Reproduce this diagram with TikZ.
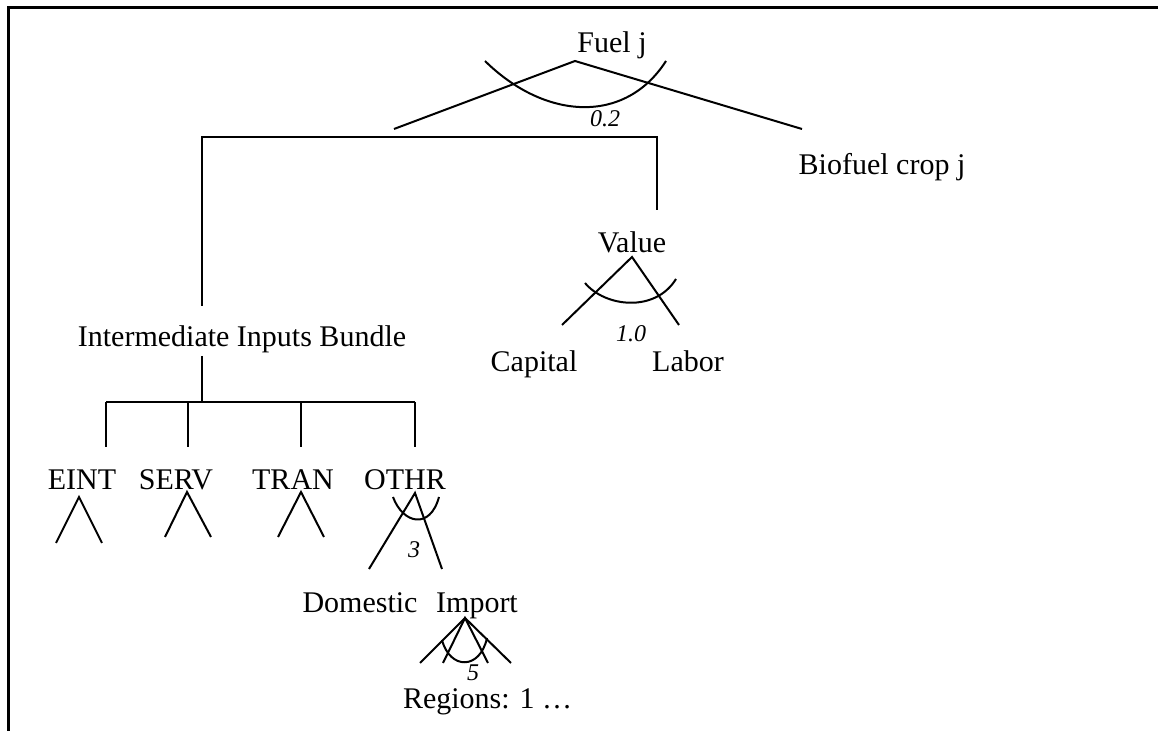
\documentclass[tikz,border=0pt]{standalone}
\usepackage{fontspec}
\setmainfont{Liberation Serif}
\begin{document}
\begin{tikzpicture}[x=0.5pt,y=-0.5pt,line width=1pt,
  txt/.style={anchor=base,inner sep=0pt,font=\fontsize{15}{18}\selectfont},
  elas/.style={anchor=base,inner sep=0pt,font=\fontsize{12}{14}\selectfont\itshape}]
  \useasboundingbox (0,0) rectangle (1158,731);
  % frame
  \coordinate (tl) at (8,8);
  \coordinate (tr) at (1158,8);
  \coordinate (bl) at (8,731);
  \draw[line width=1.5pt] (bl) -- (tl) -- (tr);
  % fuel nest
  \node[txt] (fuel) at (612,53) {Fuel j};
  \coordinate (f0) at (575,61);
  \coordinate (f1) at (394,129);
  \coordinate (f2) at (802,129);
  \draw (f1) -- (f0) -- (f2);
  \coordinate (fa) at (485,61);
  \coordinate (fb) at (666,61);
  \draw (fa) .. controls (545,120) and (625,125) .. (fb);
  \node[elas] (s1) at (605,127) {0.2};
  \node[txt] (crop) at (882,175) {Biofuel crop j};
  % bracket
  \coordinate (b1) at (202,137);
  \coordinate (b2) at (657,137);
  \coordinate (b3) at (202,306);
  \coordinate (b4) at (657,210);
  \draw (b3) -- (b1) -- (b2) -- (b4);
  % value added
  \node[txt] (val) at (632,253) {Value};
  \coordinate (v0) at (632,257);
  \coordinate (v1) at (562,325);
  \coordinate (v2) at (679,325);
  \draw (v1) -- (v0) -- (v2);
  \coordinate (va) at (585,283);
  \coordinate (vb) at (676,279);
  \draw (va) .. controls (605,307) and (655,313) .. (vb);
  \node[elas] (s2) at (631,342) {1.0};
  \node[txt] (cap) at (534,372) {Capital};
  \node[txt] (lab) at (688,372) {Labor};
  % intermediate inputs
  \node[txt] (ii) at (242,347) {Intermediate Inputs Bundle};
  \coordinate (i0) at (202,356);
  \coordinate (i1) at (202,402);
  \coordinate (h1) at (106,402);
  \coordinate (h2) at (415,402);
  \draw (i0) -- (i1);
  \draw (h1) -- (h2);
  \coordinate (e0) at (106,447);
  \coordinate (r0) at (188,447);
  \coordinate (t0) at (301,447);
  \coordinate (o0) at (415,447);
  \draw (h1) -- (e0);
  \draw (188,402) -- (r0);
  \draw (301,402) -- (t0);
  \draw (h2) -- (o0);
  \node[txt] (eint) at (82,490) {EINT};
  \node[txt] (serv) at (176,490) {SERV};
  \node[txt] (tran) at (293,490) {TRAN};
  \node[txt] (othr) at (405,490) {OTHR};
  % sub nests
  \coordinate (ea) at (79,497);
  \draw (56,543) -- (ea) -- (102,543);
  \coordinate (ra) at (187,492);
  \draw (165,537) -- (ra) -- (211,537);
  \coordinate (ta) at (301,492);
  \draw (278,537) -- (ta) -- (324,537);
  \coordinate (oa) at (415,493);
  \coordinate (o1) at (369,569);
  \coordinate (o2) at (442,569);
  \draw (o1) -- (oa) -- (o2);
  \draw (393,497) .. controls (403,524) and (430,530) .. (439,497);
  \node[elas] (s4x) at (414,558) {3};
  \node[txt] (dom) at (360,613) {Domestic};
  \node[txt] (imp) at (477,613) {Import};
  % regions
  \coordinate (m0) at (465,618);
  \draw (420,663) -- (m0) -- (511,663);
  \draw (443,663) -- (m0) -- (488,663);
  \draw (442,640) .. controls (450,670) and (480,670) .. (487,638);
  \node[elas] (s5) at (473,681) {5};
  \node[txt,anchor=base west] (reg) at (402,709) {Regions: 1 …};
\end{tikzpicture}
\end{document}
